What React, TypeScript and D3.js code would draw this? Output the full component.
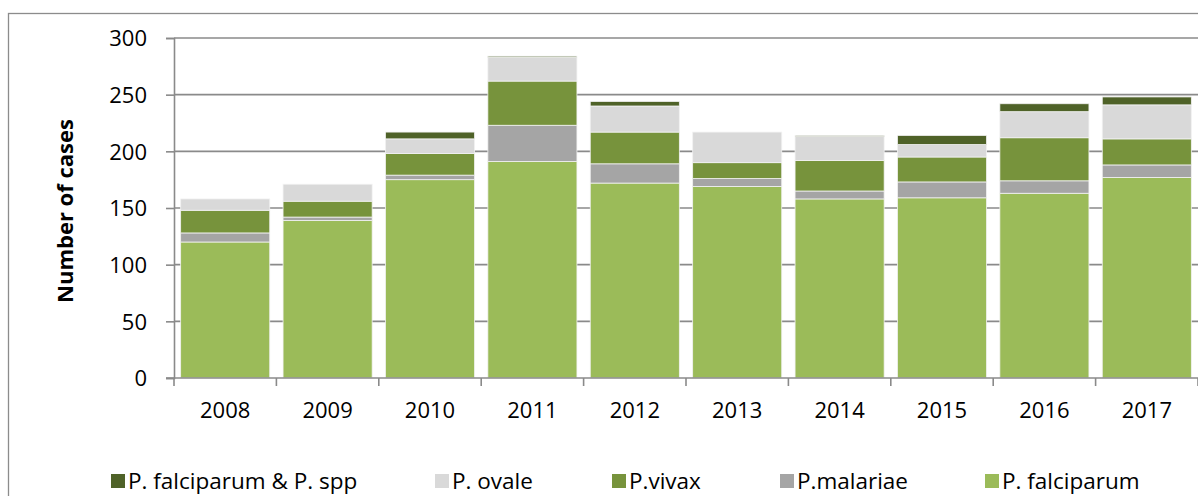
import { useEffect, useRef } from "react";
import * as d3 from "d3";

const WIDTH = 1198;
const HEIGHT = 496;
const MARGIN = { top: 38, left: 174, right: 0, bottom: 118 };

const years = ["2008", "2009", "2010", "2011", "2012", "2013", "2014", "2015", "2016", "2017"];
const falciparum = [120, 139, 175, 191, 172, 169, 158, 159, 163, 177];
const malariae = [8, 3, 4, 32, 17, 7, 7, 14, 11, 11];
const vivax = [20, 14, 19, 39, 28, 14, 27, 22, 38, 23];
const ovale = [10, 15, 13, 21, 23, 27, 21, 11, 23, 30];
const falciparumSpp = [0, 0, 6, 1, 4, 0, 1, 8, 7, 7];
const yTicks = [0, 50, 100, 150, 200, 250, 300];

// bottom to top stacking order
const series = [
  { key: "falciparum", label: "P. falciparum", color: "#9BBB59", values: falciparum },
  { key: "malariae", label: "P.malariae", color: "#A5A5A5", values: malariae },
  { key: "vivax", label: "P.vivax", color: "#77933C", values: vivax },
  { key: "ovale", label: "P. ovale", color: "#D9D9D9", values: ovale },
  { key: "spp", label: "P. falciparum & P. spp", color: "#4F6228", values: falciparumSpp },
];

// legend order as in the original, with x positions of the swatches
const legendOrder = ["spp", "ovale", "vivax", "malariae", "falciparum"];
const legendX = [111, 435, 612, 780, 985];

const FONT = "'Open Sans', 'Noto Sans', sans-serif";

const App = () => {
  const svgRef = useRef<SVGSVGElement | null>(null);

  useEffect(() => {
    const svg = d3.select(svgRef.current);
    svg.selectAll("*").remove();

    const x = d3
      .scaleBand()
      .domain(years)
      .range([MARGIN.left, WIDTH - MARGIN.right])
      .paddingInner(0.13)
      .paddingOuter(0.065);

    const y = d3
      .scaleLinear()
      .domain([0, 300])
      .range([HEIGHT - MARGIN.bottom, MARGIN.top]);

    // outer chart border (runs off the right and bottom of the picture)
    svg
      .append("rect")
      .attr("x", 8.5)
      .attr("y", 13.5)
      .attr("width", WIDTH + 20)
      .attr("height", HEIGHT + 20)
      .attr("fill", "none")
      .attr("stroke", "#8c8c8c")
      .attr("stroke-width", 1.3);

    // gridlines
    svg
      .append("g")
      .selectAll("line")
      .data(yTicks.slice(1))
      .join("line")
      .attr("x1", MARGIN.left)
      .attr("x2", WIDTH)
      .attr("y1", (d) => y(d))
      .attr("y2", (d) => y(d))
      .attr("stroke", "#8a8a8a")
      .attr("stroke-width", 1.6);

    const rows = years.map((yr, i) => {
      const r: Record<string, number | string> = { year: yr };
      series.forEach((s) => (r[s.key] = s.values[i]));
      return r;
    });
    const stack = d3.stack<Record<string, number | string>>().keys(series.map((s) => s.key));
    const stacked = stack(rows as any);

    svg
      .append("g")
      .selectAll("g")
      .data(stacked)
      .join("g")
      .attr("fill", (_, i) => series[i].color)
      .selectAll("rect")
      .data((d) => d.filter((p) => p[1] - p[0] > 0))
      .join("rect")
      .attr("x", (d) => x(d.data.year as string)!)
      .attr("width", x.bandwidth())
      .attr("y", (d) => y(d[1]))
      .attr("height", (d) => y(d[0]) - y(d[1]))
      .attr("stroke", "#f2f2f2")
      .attr("stroke-width", 0.8);

    // y axis
    const yAxis = svg
      .append("g")
      .attr("transform", `translate(${MARGIN.left},0)`)
      .call(d3.axisLeft(y).tickValues(yTicks).tickSize(8).tickPadding(19));
    yAxis.select(".domain").attr("stroke", "#8a8a8a").attr("stroke-width", 1.6);
    yAxis.selectAll(".tick line").attr("stroke", "#8a8a8a").attr("stroke-width", 1.6);
    yAxis
      .selectAll(".tick text")
      .attr("font-family", FONT)
      .attr("font-size", 22)
      .attr("fill", "#000")
      .attr("dy", "0.36em");

    // x axis
    const xAxis = svg
      .append("g")
      .attr("transform", `translate(0,${y(0)})`)
      .call(d3.axisBottom(x).tickSize(0).tickPadding(24));
    xAxis.select(".domain").remove();
    xAxis
      .selectAll(".tick text")
      .attr("font-family", FONT)
      .attr("font-size", 22)
      .attr("fill", "#000");
    svg
      .append("line")
      .attr("x1", MARGIN.left - 8)
      .attr("x2", WIDTH)
      .attr("y1", y(0))
      .attr("y2", y(0))
      .attr("stroke", "#8a8a8a")
      .attr("stroke-width", 1.6);
    // category boundary ticks
    const step = x.step();
    const bounds = years.map((_, i) => MARGIN.left + i * step).concat([MARGIN.left + years.length * step]);
    svg
      .append("g")
      .selectAll("line")
      .data(bounds)
      .join("line")
      .attr("x1", (d) => d)
      .attr("x2", (d) => d)
      .attr("y1", y(0))
      .attr("y2", y(0) + 8)
      .attr("stroke", "#8a8a8a")
      .attr("stroke-width", 1.6);

    // y title
    svg
      .append("text")
      .attr("transform", `translate(73,${(y(0) + y(300)) / 2 + 3}) rotate(-90)`)
      .attr("text-anchor", "middle")
      .attr("font-family", FONT)
      .attr("font-weight", "bold")
      .attr("font-size", 22)
      .attr("fill", "#000")
      .text("Number of cases");

    // legend
    const legend = svg
      .append("g")
      .selectAll("g")
      .data(legendOrder)
      .join("g")
      .attr("transform", (_, i) => `translate(${legendX[i]},481)`);
    legend
      .append("rect")
      .attr("x", 0)
      .attr("y", -7)
      .attr("width", 14)
      .attr("height", 14)
      .attr("fill", (k) => series.find((s) => s.key === k)!.color);
    legend
      .append("text")
      .attr("x", 17)
      .attr("dy", "0.36em")
      .attr("font-family", FONT)
      .attr("font-size", 22.5)
      .attr("fill", "#000")
      .text((k) => series.find((s) => s.key === k)!.label);
  }, []);

  return (
    <svg
      ref={svgRef}
      width={WIDTH}
      height={HEIGHT}
      style={{ position: "absolute", left: 0, top: 0, background: "#fff" }}
    />
  );
};

export default App;
